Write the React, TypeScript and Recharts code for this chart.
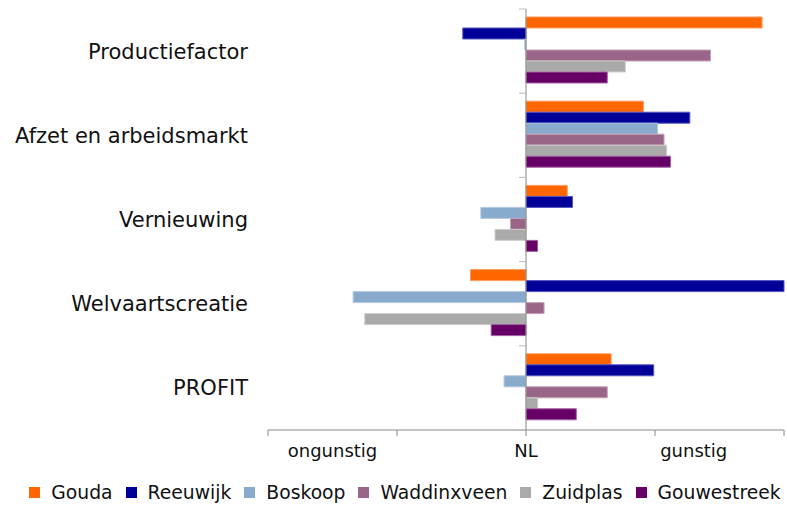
import React from "react";
import {
  BarChart,
  Bar,
  XAxis,
  YAxis,
  Legend,
  ReferenceLine,
} from "recharts";

const categories = [
  "Productiefactor",
  "Afzet en arbeidsmarkt",
  "Vernieuwing",
  "Welvaartscreatie",
  "PROFIT",
];

const gouda = [1.83, 0.91, 0.32, -0.43, 0.66];
const reeuwijk = [-0.49, 1.27, 0.36, 2.0, 0.99];
const boskoop = [-0.01, 1.02, -0.35, -1.34, -0.17];
const waddinxveen = [1.43, 1.07, -0.12, 0.14, 0.63];
const zuidplas = [0.77, 1.09, -0.24, -1.25, 0.09];
const gouwestreek = [0.63, 1.12, 0.09, -0.27, 0.39];

const xTicks = [-2, -1.5, -1, 0, 1, 1.3, 2];
const xLabels: Record<string, string> = {
  "-1.5": "ongunstig",
  "0": "NL",
  "1.3": "gunstig",
};

const series = [
  { key: "Gouda", values: gouda, fill: "#FF6600", stroke: "#FF9A5C" },
  { key: "Reeuwijk", values: reeuwijk, fill: "#000099", stroke: "#5555C0" },
  { key: "Boskoop", values: boskoop, fill: "#88AACC", stroke: "#B0C8E0" },
  { key: "Waddinxveen", values: waddinxveen, fill: "#996688", stroke: "#C4A0B8" },
  { key: "Zuidplas", values: zuidplas, fill: "#AAAAAA", stroke: "#CCCCCC" },
  { key: "Gouwestreek", values: gouwestreek, fill: "#660066", stroke: "#A060A0" },
];

const data = categories.map((name, i) => {
  const row: Record<string, number | string> = { name };
  series.forEach((s) => (row[s.key] = s.values[i]));
  return row;
});

const FONT = "DejaVu Sans, Verdana, sans-serif";
const TOP = 9;
const PLOT_BOTTOM = 430;
const BAND = (PLOT_BOTTOM - TOP) / categories.length;
const ZERO_X = 526;

function CategoryTick(props: any) {
  const { x, y, payload, index } = props;
  return (
    <g>
      <text
        x={x}
        y={y}
        dy="0.36em"
        textAnchor="end"
        fontSize={21}
        fontFamily={FONT}
        fill="#111"
      >
        {payload.value}
      </text>
      <line x1={ZERO_X - 7} x2={ZERO_X} y1={y - BAND / 2} y2={y - BAND / 2} stroke="#BBBBBB" />
      {index === categories.length - 1 && (
        <line x1={ZERO_X - 7} x2={ZERO_X} y1={y + BAND / 2} y2={y + BAND / 2} stroke="#BBBBBB" />
      )}
    </g>
  );
}

function ValueTick(props: any) {
  const { x, y, payload } = props;
  const v = payload.value;
  const label = xLabels[String(v)];
  return (
    <g>
      {Number.isInteger(v) && (
        <line x1={x} x2={x} y1={y} y2={y + 6} stroke="#888888" />
      )}
      {label && (
        <text
          x={x}
          y={y + 27}
          textAnchor="middle"
          fontSize={18}
          fontFamily={FONT}
          fill="#111"
        >
          {label}
        </text>
      )}
    </g>
  );
}

function LegendContent() {
  return (
    <div
      style={{
        display: "flex",
        justifyContent: "center",
        alignItems: "center",
        fontFamily: FONT,
        fontSize: 18.75,
        color: "#111",
        height: 36,
        paddingTop: 9,
        paddingLeft: 26,
        boxSizing: "border-box",
      }}
    >
      {series.map((s, i) => (
        <div
          key={s.key}
          style={{
            display: "flex",
            alignItems: "center",
            marginRight: i === series.length - 1 ? 0 : 13,
          }}
        >
          <span
            style={{
              display: "inline-block",
              width: 11,
              height: 11,
              background: s.fill,
              marginRight: 11,
            }}
          />
          <span>{s.key}</span>
        </div>
      ))}
    </div>
  );
}

export default function App() {
  return (
    <div style={{ position: "absolute", left: 0, top: 0, background: "#fff" }}>
      <BarChart
        width={787}
        height={506}
        data={data}
        layout="vertical"
        margin={{ top: TOP, right: 3, bottom: 0, left: 0 }}
        barCategoryGap="9.5%"
        barGap={0}
      >
        <XAxis
          type="number"
          domain={[-2, 2]}
          ticks={xTicks}
          interval={0}
          height={40}
          axisLine={{ stroke: "#888888" }}
          tickLine={false}
          tickSize={0}
          tickMargin={0}
          tick={<ValueTick />}
        />
        <YAxis
          type="category"
          dataKey="name"
          width={268}
          axisLine={false}
          tickLine={false}
          tickSize={0}
          tickMargin={20}
          tick={<CategoryTick />}
        />
        <ReferenceLine x={0} stroke="#888888" />
        {series.map((s) => (
          <Bar
            key={s.key}
            dataKey={s.key}
            fill={s.fill}
            stroke={s.stroke}
            strokeWidth={1}
            isAnimationActive={false}
          />
        ))}
        <Legend verticalAlign="bottom" height={36} content={<LegendContent />} />
      </BarChart>
    </div>
  );
}
